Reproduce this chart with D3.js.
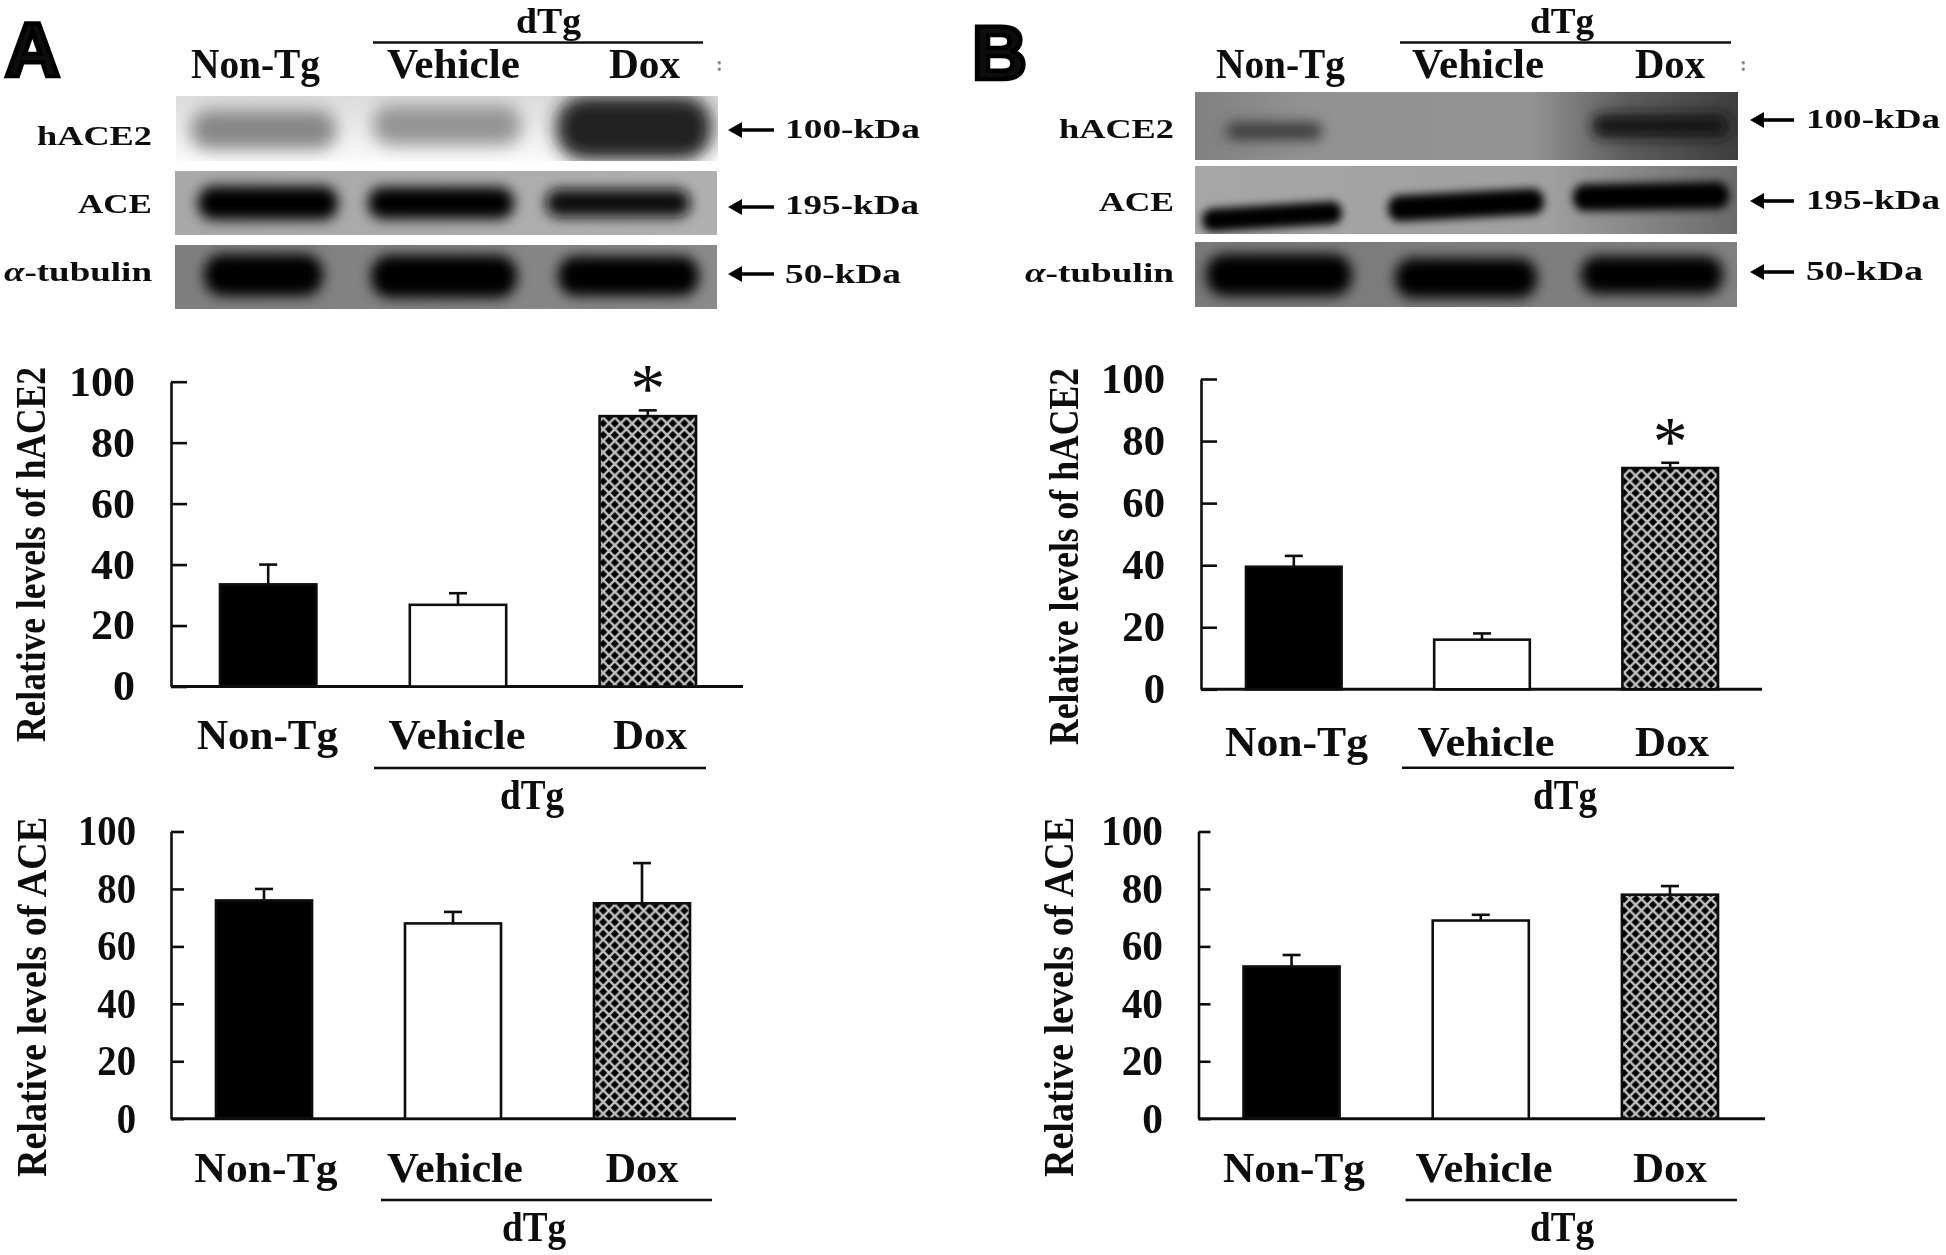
<!DOCTYPE html>
<html><head><meta charset="utf-8">
<script src="https://cdn.jsdelivr.net/npm/d3@7"></script>
<style>html,body{margin:0;padding:0;background:#fff}svg{display:block}
text{font-family:"Liberation Serif",serif;font-weight:700;fill:#0a0a0a}</style>
</head><body><svg id="c" width="1946" height="1255"></svg>
<script>
const categories=["Non-Tg","Vehicle","Dox"];
const tickValues=[0,20,40,60,80,100];
const groupLabel="dTg";
const proteins=["hACE2","ACE","α-tubulin"];
const sizes=["100-kDa","195-kDa","50-kDa"];
// mean, upper error end
const a_hace2=[33.5,26.8,88.7], a_hace2_err=[40,30.6,90.6];
const a_ace=[76,68,75], a_ace_err=[80,72,89];
const b_hace2=[39.5,16,71.3], b_hace2_err=[43,18,73];
const b_ace=[53,69,78], b_ace_err=[57,71,81];

const svg=d3.select("#c");
const defs=svg.append("defs");
defs.append("filter").attr("id","soft").attr("x","-5%").attr("y","-5%").attr("width","110%").attr("height","110%")
  .append("feGaussianBlur").attr("stdDeviation",0.65);
[["b4",4.5],["b6",6.5],["b8",8.5]].forEach(([id,s])=>defs.append("filter").attr("id",id)
  .attr("x","-30%").attr("y","-100%").attr("width","160%").attr("height","300%")
  .append("feGaussianBlur").attr("stdDeviation",s));
const pat=defs.append("pattern").attr("id","hatch").attr("patternUnits","userSpaceOnUse").attr("width",11.6).attr("height",11.6);
pat.append("rect").attr("width",11.6).attr("height",11.6).attr("fill","#000");
pat.append("path").attr("d","M0 0L11.6 11.6M11.6 0L0 11.6").attr("stroke","#c0c0c0").attr("stroke-width",2.5);

const root=svg.append("g").attr("filter","url(#soft)");

function barChart(o){
  const g=root.append("g");
  const y=d3.scaleLinear().domain([0,100]).range([o.y0,o.y100]);
  const x=d3.scaleBand().domain(categories).range(o.bars).paddingInner(0.492).paddingOuter(0);
  const ax=g.append("g").attr("transform",`translate(${o.axisX},0)`)
    .call(d3.axisLeft(y).tickValues(tickValues).tickSize(-o.tick).tickSizeOuter(0).tickPadding(o.axisX-o.tickRight).tickFormat(d3.format("d")));
  ax.selectAll("path,line").attr("stroke","#111").attr("stroke-width",2.6);
  ax.selectAll("text").attr("font-size",42).attr("font-family","Liberation Serif").attr("font-weight",700).attr("fill","#0a0a0a")
    .attr("textLength",d=>d===100?o.w100:d===0?o.w100/3:o.w100*2/3).attr("lengthAdjust","spacingAndGlyphs");
  g.append("line").attr("x1",o.axisX).attr("x2",o.xEnd).attr("y1",o.y0).attr("y2",o.y0).attr("stroke","#111").attr("stroke-width",3);
  const cx=c=>x(c)+x.bandwidth()/2;
  const rows=categories.map((c,i)=>({c,v:o.values[i],e:o.errs[i],i}));
  g.selectAll(".ev").data(rows).join("line").attr("x1",d=>cx(d.c)).attr("x2",d=>cx(d.c))
    .attr("y1",d=>y(d.v)).attr("y2",d=>y(d.e)).attr("stroke","#111").attr("stroke-width",2.6);
  g.selectAll(".ec").data(rows).join("line").attr("x1",d=>cx(d.c)-9).attr("x2",d=>cx(d.c)+9)
    .attr("y1",d=>y(d.e)).attr("y2",d=>y(d.e)).attr("stroke","#111").attr("stroke-width",2.6);
  const fills=["#000","#fff","url(#hatch)"];
  g.selectAll(".bar").data(rows).join("rect").attr("x",d=>x(d.c)).attr("width",x.bandwidth())
    .attr("y",d=>y(d.v)).attr("height",d=>y(0)-y(d.v)).attr("fill",d=>fills[d.i]).attr("stroke","#111").attr("stroke-width",2.6);
  g.selectAll(".cat").data(rows).join("text").attr("x",d=>o.labelX[d.i]).attr("y",o.labelY).attr("text-anchor","middle")
    .attr("font-size",42).attr("textLength",d=>o.labelW[d.i]).attr("lengthAdjust","spacingAndGlyphs").text(d=>d.c);
  g.append("line").attr("x1",o.rule[0]).attr("x2",o.rule[1]).attr("y1",o.ruleY).attr("y2",o.ruleY).attr("stroke","#111").attr("stroke-width",2.6);
  g.append("text").attr("x",o.dTgX).attr("y",o.ruleY+41).attr("text-anchor","middle").attr("font-size",42)
    .attr("textLength",64).attr("lengthAdjust","spacingAndGlyphs").text(groupLabel);
  const my=(o.yLab[0]+o.yLab[1])/2;
  g.append("text").attr("transform",`translate(${o.yLabX},${my}) rotate(-90)`).attr("text-anchor","middle").attr("font-size",43)
    .attr("textLength",o.yLab[1]-o.yLab[0]).attr("lengthAdjust","spacingAndGlyphs").text(o.title);
  if(o.star) g.append("text").attr("x",cx("Dox")).attr("y",y(o.errs[2])+2).attr("text-anchor","middle")
    .attr("font-size",70).style("font-weight",400).text("*");
}
barChart({values:a_hace2,errs:a_hace2_err,y0:686.5,y100:381.7,axisX:171,xEnd:743,tick:16,tickRight:135,w100:66,bars:[220,696],
  labelX:[267.5,457,650],labelW:[141,137,74],labelY:748.5,rule:[374,706],ruleY:768,dTgX:532,yLabX:45,yLab:[367,742],title:"Relative levels of hACE2",star:true});
barChart({values:a_ace,errs:a_ace_err,y0:1118.7,y100:831.5,axisX:171,xEnd:736,tick:13,tickRight:136,w100:58,bars:[216,690],
  labelX:[266,455,642],labelW:[143,136,73],labelY:1181.5,rule:[381,712],ruleY:1200,dTgX:534,yLabX:46,yLab:[817,1177],title:"Relative levels of ACE"});
barChart({values:b_hace2,errs:b_hace2_err,y0:689.3,y100:379,axisX:1201,xEnd:1762,tick:16,tickRight:1165,w100:64,bars:[1246,1718],
  labelX:[1296.5,1486,1672],labelW:[143,137,74],labelY:755.5,rule:[1402,1734],ruleY:767.7,dTgX:1565,yLabX:1078,yLab:[368,745],title:"Relative levels of hACE2",star:true});
barChart({values:b_ace,errs:b_ace_err,y0:1118.7,y100:831.5,axisX:1198.5,xEnd:1765,tick:12,tickRight:1163,w100:62,bars:[1243.5,1718],
  labelX:[1294,1484,1670],labelW:[142,137,74],labelY:1181.5,rule:[1405.5,1737],ruleY:1200,dTgX:1562,yLabX:1073,yLab:[817,1177],title:"Relative levels of ACE"});

// western blot strips: [x1,x2,y1,y2,shade,rotation]
const blots=[
 {x:[176,718],y:[96,161],stops:[[0,"#dcdcdc"],[.55,"#ececec"],[1,"#fbfbfb"]],vert:true,blur:"b8",
  bands:[[191,336,110,149,"#868686",0],[373,521,105,145,"#949494",0],[556,712,96,160,"#202020",0]]},
 {x:[175,717],y:[171,235],stops:[[0,"#a8a8a8"],[1,"#b0b0b0"]],blur:"b6",
  bands:[[198,338,186,220,"#000",0],[368,514,187,219,"#000",0],[546,690,189,217,"#0a0a0a",0]]},
 {x:[175,717],y:[245,309],stops:[[0,"#7e7e7e"],[1,"#8a8a8a"]],blur:"b6",
  bands:[[204,323,254,296,"#000",0],[371,517,255,298,"#000",0],[558,699,256,296,"#000",0]]},
 {x:[1195,1738],y:[92,160],stops:[[0,"#808080"],[.2,"#929292"],[.62,"#939393"],[.8,"#5c5c5c"],[1,"#3e3e3e"]],blur:"b6",
  bands:[[1226,1322,122,140,"#3c3c3c",0],[1592,1730,114,138,"#141414",0]]},
 {x:[1195,1737],y:[166,234],stops:[[0,"#a6a6a6"],[.65,"#a0a0a0"],[1,"#6a6a6a"]],blur:"b4",
  bands:[[1202,1342,205,228,"#000",-3.5],[1388,1544,192,218,"#000",-3],[1573,1729,183,210,"#000",-1]]},
 {x:[1195,1737],y:[242,307],stops:[[0,"#7a7a7a"],[1,"#808080"]],blur:"b6",
  bands:[[1206,1352,254,296,"#000",0],[1395,1537,258,298,"#000",0],[1581,1723,256,294,"#000",0]]}
];
const bg=svg.insert("g","g");
blots.forEach((b,i)=>{
  const id="g"+i, gr=defs.append("linearGradient").attr("id",id).attr("x2",b.vert?0:1).attr("y2",b.vert?1:0);
  b.stops.forEach(s=>gr.append("stop").attr("offset",s[0]).attr("stop-color",s[1]));
  defs.append("clipPath").attr("id","c"+i).append("rect").attr("x",b.x[0]).attr("y",b.y[0]).attr("width",b.x[1]-b.x[0]).attr("height",b.y[1]-b.y[0]);
  const g=bg.append("g").attr("clip-path",`url(#c${i})`);
  g.append("rect").attr("x",b.x[0]).attr("y",b.y[0]).attr("width",b.x[1]-b.x[0]).attr("height",b.y[1]-b.y[0]).attr("fill",`url(#${id})`);
  g.selectAll(".band").data(b.bands).join("rect").attr("x",d=>d[0]).attr("y",d=>d[2]).attr("width",d=>d[1]-d[0]).attr("height",d=>d[3]-d[2])
    .attr("rx",d=>(d[3]-d[2])*.45).attr("fill",d=>d[4]).attr("filter",`url(#${b.blur})`)
    .attr("transform",d=>`rotate(${d[5]} ${(d[0]+d[1])/2} ${(d[2]+d[3])/2})`);
});

function header(o){
  const g=root.append("g");
  g.append("text").attr("x",o.letter[0]).attr("y",o.letter[1]).attr("font-size",76).style("font-family","Liberation Sans")
    .attr("stroke","#000").attr("stroke-width",4.5).text(o.name);
  g.selectAll(".h").data(categories).join("text").attr("x",(d,i)=>o.cat[i][0]).attr("y",78).attr("font-size",42)
    .attr("textLength",(d,i)=>o.cat[i][1]-o.cat[i][0]).attr("lengthAdjust","spacingAndGlyphs").text(d=>d);
  g.append("text").attr("x",o.dTg[0]).attr("y",33).attr("font-size",36).attr("textLength",o.dTg[1]-o.dTg[0]).attr("lengthAdjust","spacingAndGlyphs").text(groupLabel);
  g.append("line").attr("x1",o.rule[0]).attr("x2",o.rule[1]).attr("y1",42.5).attr("y2",42.5).attr("stroke","#111").attr("stroke-width",2.6);
  g.append("text").attr("x",o.dots).attr("y",71).attr("font-size",20).style("fill","#888").text(":");
  proteins.forEach((p,i)=>{
    const t=g.append("text").attr("x",o.rowX[i]).attr("y",o.rowY[i]).attr("font-size",27)
      .attr("textLength",o.rowR-o.rowX[i]).attr("lengthAdjust","spacingAndGlyphs");
    if(p[0]==="α"){t.append("tspan").style("font-style","italic").text("α");t.append("tspan").text(p.slice(1));}
    else t.text(p);
    g.append("line").attr("x1",o.arrow[0]+12).attr("x2",o.arrow[1]).attr("y1",o.arrowY[i]).attr("y2",o.arrowY[i]).attr("stroke","#000").attr("stroke-width",3.6);
    g.append("path").attr("d",d3.line()([[o.arrow[0],o.arrowY[i]],[o.arrow[0]+14,o.arrowY[i]-8],[o.arrow[0]+14,o.arrowY[i]+8]])+"Z").attr("fill","#000");
    g.append("text").attr("x",o.kdX).attr("y",o.kdY[i]).attr("font-size",27).attr("textLength",o.kdW[i]).attr("lengthAdjust","spacingAndGlyphs").text(sizes[i]);
  });
}
header({name:"A",letter:[5,76],cat:[[191,320],[387,520],[609,680]],dTg:[516,581],rule:[373,703],dots:716,
  rowX:[37,78,4],rowR:152,rowY:[145,213,281],arrow:[728,774],arrowY:[130,207,274],kdX:785,kdY:[138,214,283],kdW:[135,134,116]});
header({name:"B",letter:[972,79],cat:[[1216,1345],[1412,1544],[1635,1705]],dTg:[1530,1594],rule:[1400,1731],dots:1740,
  rowX:[1059,1099,1025],rowR:1174,rowY:[138,211,282],arrow:[1750,1794],arrowY:[120,201,272],kdX:1806,kdY:[128,209,280],kdW:[134,134,117]});
</script></body></html>
